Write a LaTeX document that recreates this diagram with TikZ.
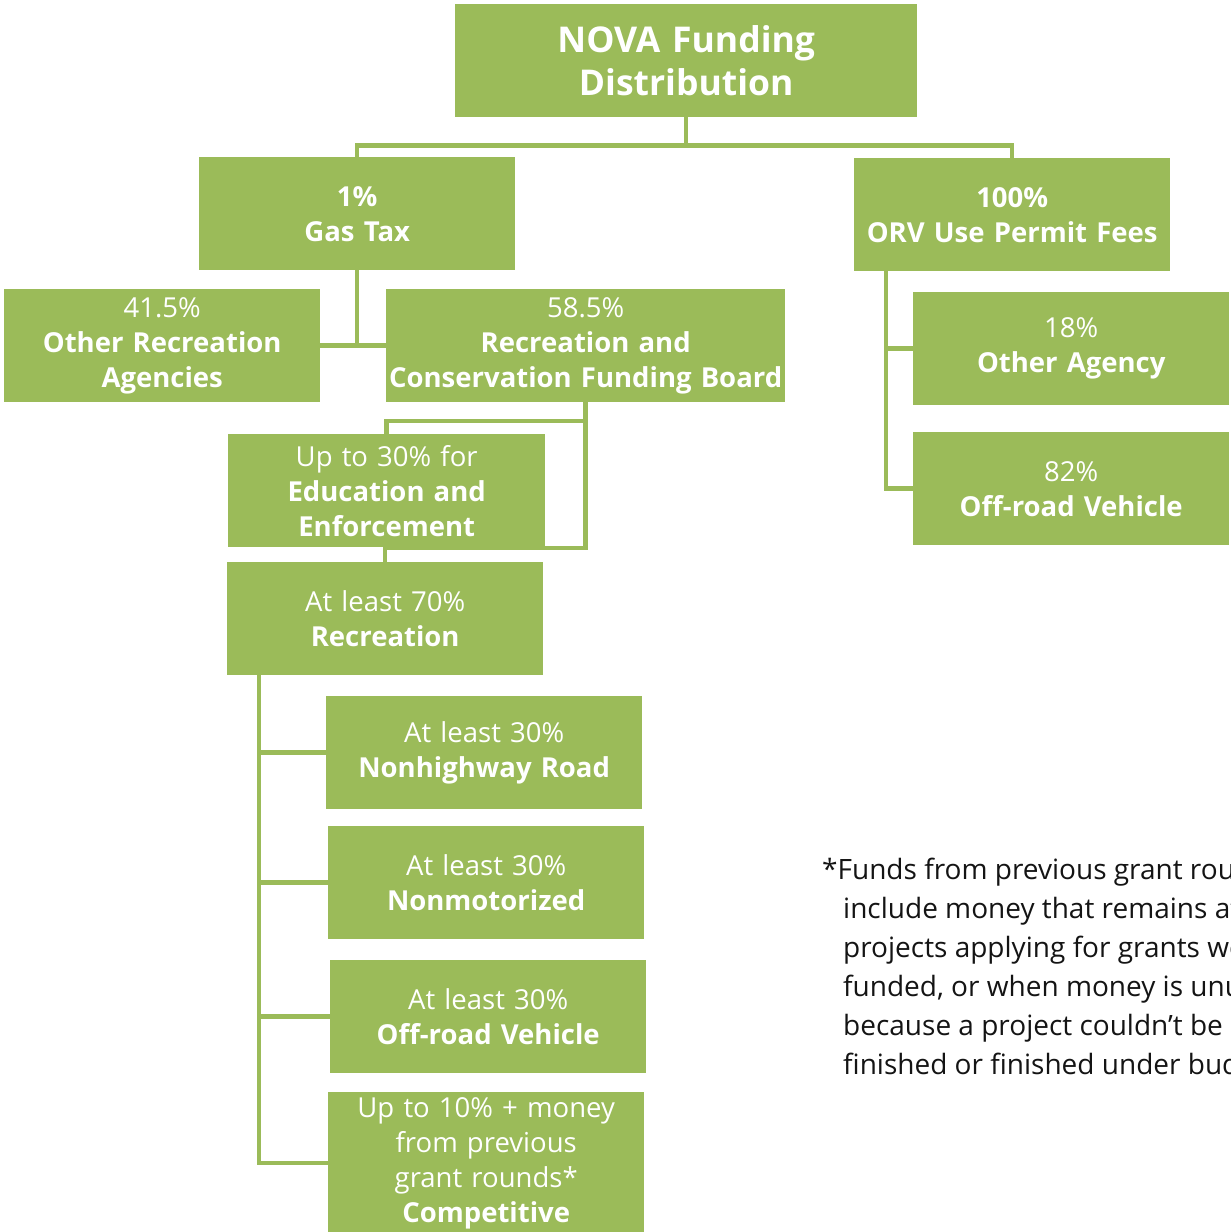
\documentclass[tikz,border=0pt]{standalone}
\usepackage{fontspec}
\setmainfont{Open Sans}
\pgfdeclarelayer{bg}
\pgfsetlayers{bg,main}
\definecolor{nova}{HTML}{9BBB59}
\definecolor{ink}{HTML}{141414}
\tikzset{
  box/.style={fill=nova, draw=none, inner sep=0pt, anchor=north west,
    minimum height=113pt, text width=#1, align=center, text=white,
    font=\fontsize{27.5}{35}\selectfont},
  box/.default=316pt,
  conn/.style={draw=nova, line width=4.5pt},
}
\begin{document}
\begin{tikzpicture}[x=1pt,y=-1pt]
\useasboundingbox (0,0) rectangle (1231,1232);
\clip (0,0) rectangle (1231,1232);

\node[box=462pt, font=\fontsize{35.5}{43}\selectfont\bfseries] (nova) at (455,4) {NOVA Funding\\Distribution};
\node[box] (gas) at (199,157) {\textbf{1\%}\\\textbf{Gas Tax}};
\node[box] (orv) at (854,158) {\textbf{100\%}\\\textbf{ORV Use Permit Fees}};
\node[box] (ora) at (4,289) {41.5\%\\\textbf{Other Recreation}\\\textbf{Agencies}};
\node[box=399pt] (rcfb) at (386,289) {58.5\%\\\textbf{Recreation and}\\\textbf{Conservation Funding Board}};
\node[box=317pt] (edu) at (228,434) {Up to 30\% for\\\textbf{Education and}\\\textbf{Enforcement}};
\node[box] (rec) at (227,562) {At least 70\%\\\textbf{Recreation}};
\node[box] (nhr) at (326,696) {At least 30\%\\\textbf{Nonhighway Road}};
\node[box] (nmo) at (328,826) {At least 30\%\\\textbf{Nonmotorized}};
\node[box] (orvv) at (330,960) {At least 30\%\\\textbf{Off-road Vehicle}};
\node[box, minimum height=142pt] (comp) at (328,1092) {Up to 10\% + money\\from previous\\grant rounds*\\\textbf{Competitive}};
\node[box] (oag) at (913,292) {18\%\\\textbf{Other Agency}};
\node[box] (orv82) at (913,432) {82\%\\\textbf{Off-road Vehicle}};

\node[anchor=north west, inner sep=0pt, align=left, text=ink,
  font=\fontsize{28}{39}\selectfont] (note) at (822,858)
  {*Funds from previous grant rounds\\
   \hspace*{21pt}include money that remains after\\
   \hspace*{21pt}projects applying for grants were\\
   \hspace*{21pt}funded, or when money is unused\\
   \hspace*{21pt}because a project couldn’t be\\
   \hspace*{21pt}finished or finished under budget.};

\begin{pgfonlayer}{bg}
\draw[conn] (nova.south) -- ++(0,28) coordinate (top) -| (gas.north);
\draw[conn] (top) -| (orv.north);
\draw[conn] (gas.south) -- (gas.south |- ora.east);
\draw[conn] (ora.east) -- (rcfb.west);
\draw[conn] (rcfb.south) |- ([yshift=13pt]edu.north) -- (edu.north);
\draw[conn] (rcfb.south) |- ([yshift=14pt]rec.north) -- (rec.north);
\draw[conn] ([xshift=32pt]rec.south west) |- (nhr.west);
\draw[conn] ([xshift=32pt]rec.south west) |- (nmo.west);
\draw[conn] ([xshift=32pt]rec.south west) |- (orvv.west);
\draw[conn] ([xshift=32pt]rec.south west) |- (comp.west);
\draw[conn] ([xshift=32pt]orv.south west) |- (oag.west);
\draw[conn] ([xshift=32pt]orv.south west) |- (orv82.west);
\end{pgfonlayer}
\end{tikzpicture}
\end{document}
